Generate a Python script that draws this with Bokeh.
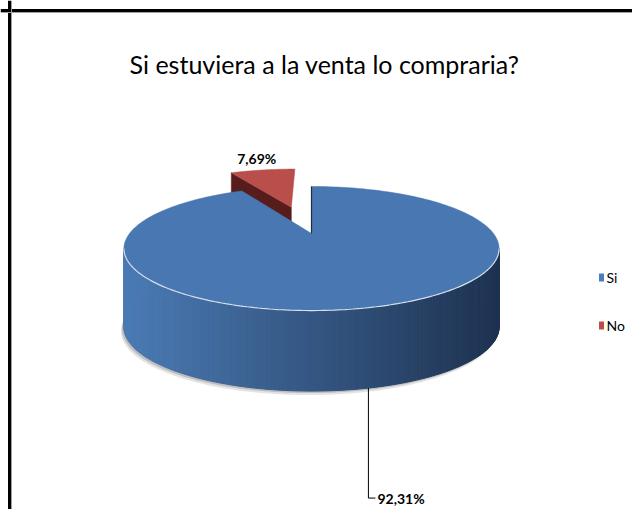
import numpy as np
from bokeh.plotting import figure
from bokeh.models import Range1d, Span
from bokeh.embed import file_html
from bokeh.resources import INLINE
from bokeh.core.properties import value

# ---------------- data ----------------
title_text = "Si estuviera a la venta lo compraria?"
categories = ["Si", "No"]
values = [92.31, 7.69]
labels = ["92,31%", "7,69%"]

# ---------------- style ----------------
top_colors = ["#4877b1", "#b94e4b"]
cut_colors = ["#2a4568", "#561d1c"]
legend_colors = ["#4a7ebb", "#be4b48"]
side_light = np.array([0x4b, 0x7b, 0xb5])
side_dark = np.array([0x1e, 0x32, 0x50])
explode = [0.0, 0.52]
FONT = "Lato"

CX, CY = 311.0, 233.0   # projected pie centre (screen px)
A, B, K = 182.0, 58.4, 0.242


def proj(u, v):
    u = np.asarray(u, float)
    v = np.asarray(v, float)
    s = 1.0 / (1.0 + K * v)
    return CX + A * u * s, CY - B * v * s, s


def dep(s):
    return 70.0 + 8.0 * s


def hexcol(c):
    c = np.clip(np.round(c), 0, 255).astype(int)
    return "#%02x%02x%02x" % tuple(c)


p = figure(width=632, height=509, x_range=Range1d(0, 632), y_range=Range1d(509, 0),
           output_backend="svg", toolbar_location=None,
           x_axis_location=None, y_axis_location=None, min_border=0,
           outline_line_color=None, background_fill_color="white",
           border_fill_color="white")
p.grid.visible = False

frac = np.array(values) / np.sum(values)
cum = np.concatenate([[0.0], np.cumsum(frac)]) * 2 * np.pi

# ---- shadow under the base ----
th = np.linspace(0, 2 * np.pi, 240)
sx, sy, ss = proj(np.sin(th), np.cos(th))
sb = sy + dep(ss)
p.patch(list(sx - 3), list(sb + 4), fill_color="#b0b0b0", fill_alpha=0.35, line_color=None)
p.patch(list(sx - 2), list(sb + 2), fill_color="#909090", fill_alpha=0.45, line_color=None)

# ---- slices: back (exploded) slices first ----
order = sorted(range(len(values)), key=lambda i: -explode[i])
th_r = np.arccos(-K)
th_l = 2 * np.pi - th_r
for i in order:
    t0, t1 = cum[i], cum[i + 1]
    mid = 0.5 * (t0 + t1)
    ou, ov = explode[i] * np.sin(mid), explode[i] * np.cos(mid)
    cx_, cy_, cs_ = proj(ou, ov)

    # cut face at start angle (visible for the exploded slice)
    if explode[i] > 0:
        rx, ry, rs = proj(ou + np.sin(t0), ov + np.cos(t0))
        p.patch([float(cx_), float(rx), float(rx), float(cx_)],
                [float(cy_), float(ry), float(ry + dep(rs)), float(cy_ + dep(cs_))],
                fill_color=cut_colors[i], line_color=cut_colors[i], line_width=0.5)

    # outer side (front arc), gradient strips
    a, b = max(t0, th_r), min(t1, th_l)
    if b > a and explode[i] == 0:
        tt = np.linspace(a, b, 160)
        x, y, s = proj(np.sin(tt), np.cos(tt))
        yb = y + dep(s)
        xmin, xmax = x.min(), x.max()
        xs, ys, cols = [], [], []
        for j in range(len(tt) - 1):
            xs.append([x[j], x[j + 1], x[j + 1], x[j]])
            ys.append([y[j], y[j + 1], yb[j + 1], yb[j]])
            t = ((x[j] + x[j + 1]) / 2 - xmin) / (xmax - xmin)
            cols.append(hexcol(side_light + (side_dark - side_light) * t))
        p.patches(xs, ys, fill_color=cols, line_color=cols, line_width=1)

    # top face
    tt = np.linspace(t0, t1, 200)
    x, y, s = proj(ou + np.sin(tt), ov + np.cos(tt))
    px = [float(cx_)] + list(x)
    py = [float(cy_)] + list(y)
    p.patch(px, py, fill_color=top_colors[i], line_color=top_colors[i], line_width=0.5)

    if explode[i] == 0:
        # light rim along the front edge of the top
        tt = np.linspace(max(t0, th_r), min(t1, th_l), 160)
        x, y, s = proj(np.sin(tt), np.cos(tt))
        p.line(list(x), list(y), line_color="#d6e0ee", line_width=1.2)
        # edge-on start cut face (notch line)
        ex, ey, es = proj(np.sin(t0), np.cos(t0))
        p.line([float(cx_), float(ex)], [float(cy_), float(ey)],
               line_color="#1e2d45", line_width=1.2)

# ---- data labels ----
for i in range(len(values)):
    t0, t1 = cum[i], cum[i + 1]
    mid = 0.5 * (t0 + t1)
    if explode[i] == 0:
        bx, by, bs = proj(np.sin(mid), np.cos(mid))
        ybot = float(by + dep(bs))
        ly = ybot + 110
        p.line([float(bx), float(bx), float(bx) + 7], [ybot, ly, ly],
               line_color="black", line_width=1)
        p.text(x=[float(bx) + 9], y=[ly], text=[labels[i]], text_align="left",
               text_baseline="middle", text_font=value(FONT), text_font_style="bold",
               text_font_size="14px", text_color="black")
    else:
        ou, ov = explode[i] * np.sin(mid), explode[i] * np.cos(mid)
        ax, ay, as_ = proj(ou + np.sin(mid), ov + np.cos(mid))
        p.text(x=[float(ax) - 6], y=[float(ay) - 11], text=[labels[i]], text_align="center",
               text_baseline="alphabetic", text_font=value(FONT), text_font_style="bold",
               text_font_size="14px", text_color="black")

# ---- legend ----
for i, cat in enumerate(categories):
    ly = 277 + 48 * i
    p.rect(x=[601], y=[ly], width=5, height=8, width_units="screen", height_units="screen",
           fill_color=legend_colors[i], line_color=None)
    p.text(x=[606], y=[ly], text=[cat], text_align="left", text_baseline="middle",
           text_font=value(FONT), text_font_size="14px", text_color="black")

# ---- title ----
p.text(x=[324], y=[63], text=[title_text], text_align="center", text_baseline="alphabetic",
       text_font=value(FONT), text_font_size="25px", text_color="black")

# ---- chart-area border (top/left visible) ----
p.add_layout(Span(location=10, dimension="width", line_color="black", line_width=3))
p.add_layout(Span(location=9, dimension="height", line_color="black", line_width=3))
p.add_layout(Span(location=12, dimension="width", line_color="#a0a0a0", line_width=1))
p.add_layout(Span(location=11, dimension="height", line_color="#a0a0a0", line_width=1))

open("out.html", "w").write(file_html(p, INLINE))
